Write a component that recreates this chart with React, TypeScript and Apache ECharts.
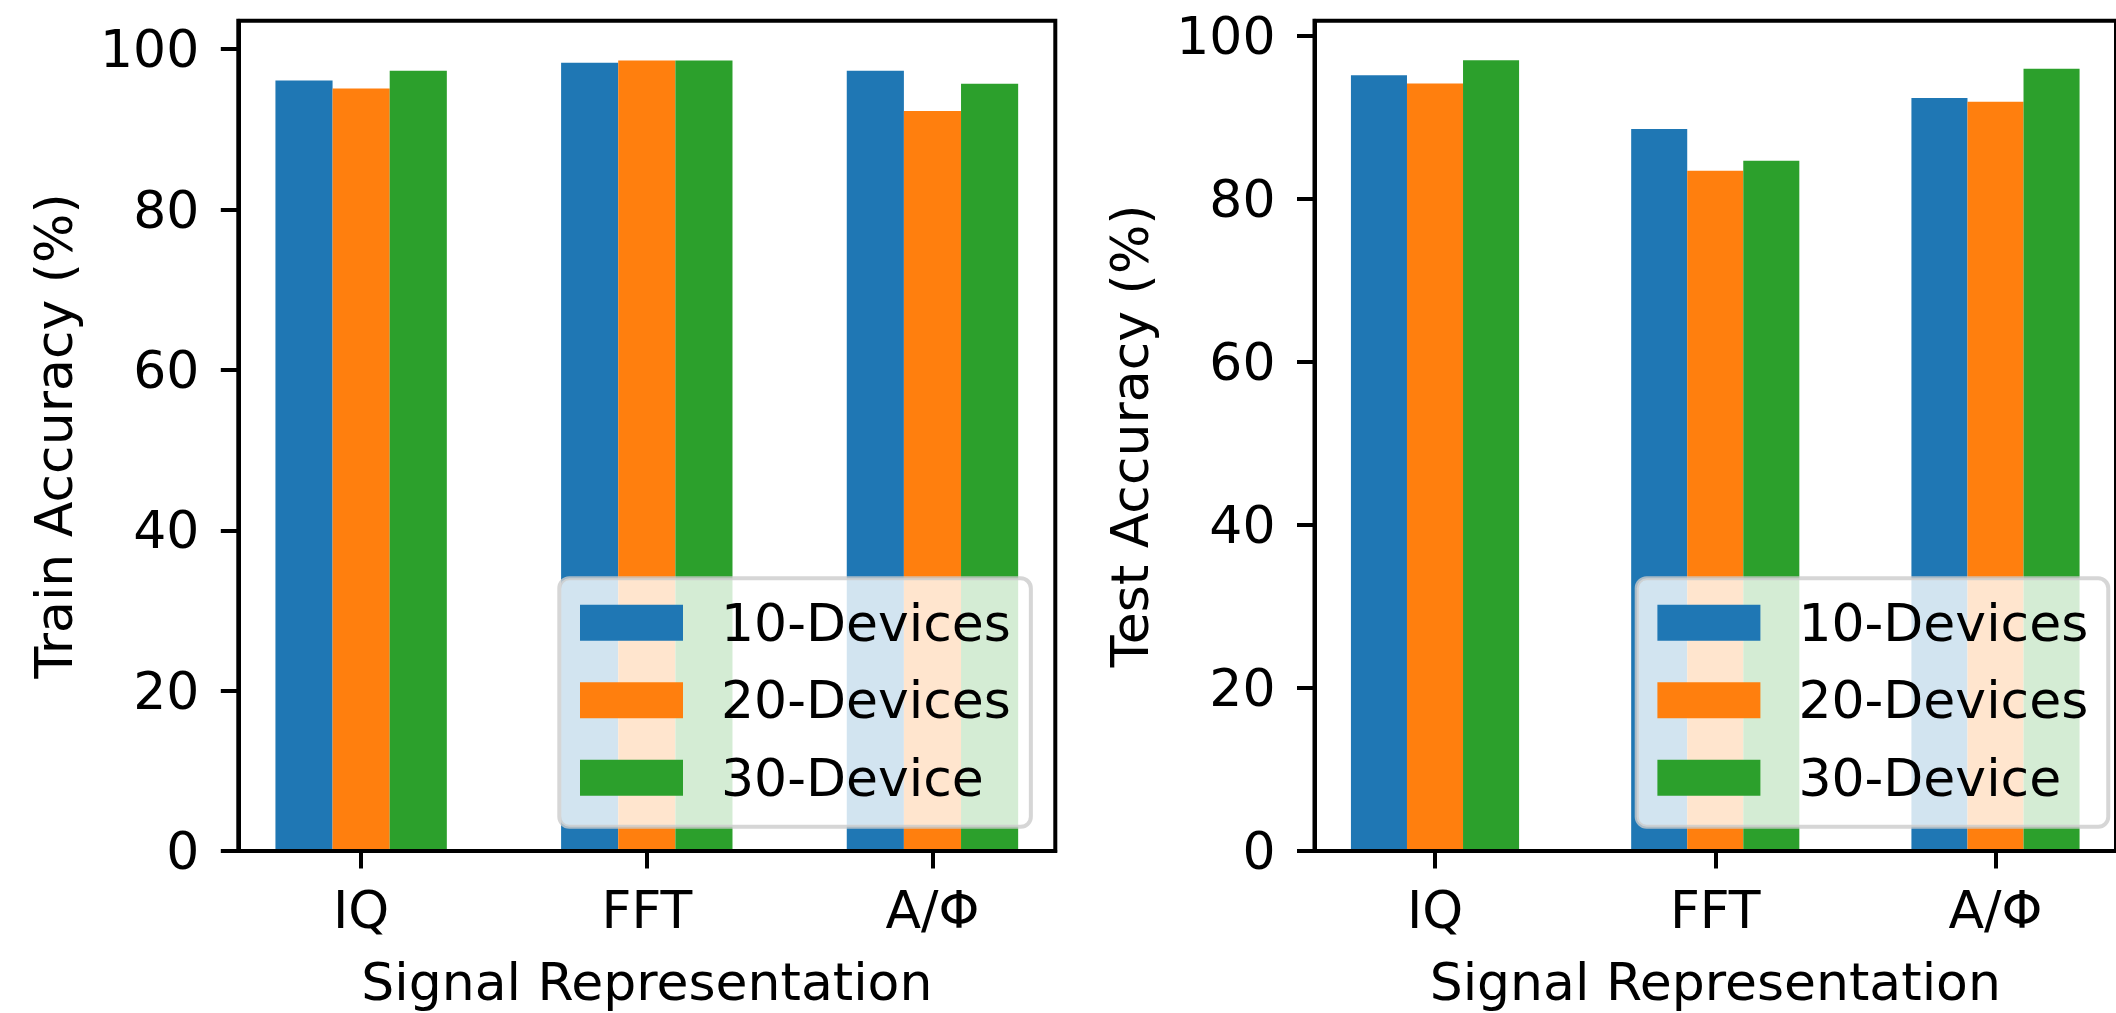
import React, { useEffect, useRef } from 'react';
import * as echarts from 'echarts';

const categories = ['IQ', 'FFT', 'A/Φ'];
const seriesNames = ['10-Devices', '20-Devices', '30-Device'];
const colors = ['#1f77b4', '#ff7f0e', '#2ca02c'];

const train10 = [96.1, 98.3, 97.3];
const train20 = [95.1, 98.6, 92.3];
const train30 = [97.3, 98.6, 95.7];

const test10 = [95.2, 88.6, 92.4];
const test20 = [94.2, 83.5, 91.95];
const test30 = [97.05, 84.7, 96.0];

const yTicks = [0, 20, 40, 60, 80, 100];
const xTicks = [0, 1, 2];
const trainMax = 103.55;
const testMax = 101.9;

const FONT = 'DejaVu Sans';

export default function App() {
  const ref = useRef<HTMLDivElement>(null);

  useEffect(() => {
    document.body.style.margin = '0';
    document.body.style.overflow = 'hidden';
    const chart = echarts.init(ref.current!, null, { renderer: 'svg' });

    const grids = [
      { left: 238.3, top: 20.7, width: 817, height: 831 },
      { left: 1314.5, top: 20.7, width: 817, height: 831 },
    ];

    const mkX = (g: number) => ({
      type: 'value',
      gridIndex: g,
      min: -0.43,
      max: 2.43,
      z: 3,
      axisLine: { show: true, onZero: false, lineStyle: { color: '#000', width: 4 } },
      axisTick: { show: true, length: 17.5, customValues: xTicks, lineStyle: { color: '#000', width: 4 } },
      axisLabel: {
        customValues: xTicks,
        formatter: (v: number) => categories[Math.round(v)] ?? '',
        fontSize: 52,
        color: '#000',
        fontFamily: FONT,
        margin: 32.6,
      },
      splitLine: { show: false },
      name: 'Signal Representation',
      nameLocation: 'middle',
      nameGap: 105,
      nameTextStyle: { fontSize: 52, color: '#000', fontFamily: FONT },
    });

    const mkY = (g: number, max: number, name: string) => ({
      type: 'value',
      gridIndex: g,
      min: 0,
      max,
      interval: 20,
      z: 3,
      axisLine: { show: true, onZero: false, lineStyle: { color: '#000', width: 4 } },
      axisTick: { show: true, length: 17.5, customValues: yTicks, lineStyle: { color: '#000', width: 4 } },
      axisLabel: {
        customValues: yTicks,
        fontSize: 52,
        color: '#000',
        fontFamily: FONT,
        margin: 39,
      },
      splitLine: { show: false },
      name,
      nameLocation: 'middle',
      nameGap: 158.6,
      nameTextStyle: { fontSize: 52, color: '#000', fontFamily: FONT },
    });

    const mkSeries = (g: number, sets: number[][]) =>
      sets.map((vals, k) => ({
        type: 'bar',
        name: seriesNames[k],
        xAxisIndex: g,
        yAxisIndex: g,
        data: vals.map((v, i) => [i, v]),
        barWidth: '20%',
        barGap: '0%',
        itemStyle: { color: colors[k] },
        emphasis: { disabled: true },
      }));

    const mkLegend = (left: number) => ({
      data: seriesNames,
      orient: 'vertical',
      left,
      top: 578.3,
      icon: 'rect',
      itemWidth: 103,
      itemHeight: 36,
      itemGap: 25.5,
      padding: [18.5, 20, 23, 20.7],
      backgroundColor: 'rgba(255,255,255,0.8)',
      borderColor: 'rgba(204,204,204,0.8)',
      borderWidth: 4,
      borderRadius: 10,
      selectedMode: false,
      textStyle: { fontSize: 52, fontFamily: FONT, color: '#000', lineHeight: 52, padding: [0, 0, 0, 33] },
    });

    chart.setOption({
      animation: false,
      backgroundColor: '#fff',
      grid: grids.map((g) => ({ ...g, show: true, borderColor: '#000', borderWidth: 4, backgroundColor: 'transparent' })),
      xAxis: [mkX(0), mkX(1)],
      yAxis: [mkY(0, trainMax, 'Train Accuracy (%)'), mkY(1, testMax, 'Test Accuracy (%)')],
      legend: [mkLegend(559.3), mkLegend(1636.7)],
      series: [...mkSeries(0, [train10, train20, train30]), ...mkSeries(1, [test10, test20, test30])],
    });

    return () => chart.dispose();
  }, []);

  return <div ref={ref} style={{ position: 'absolute', left: 0, top: 0, width: 2116, height: 1013 }} />;
}
